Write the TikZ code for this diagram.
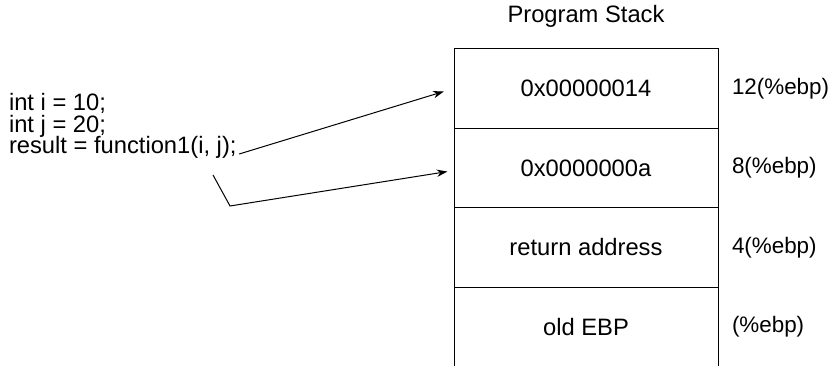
\documentclass[tikz,border=0pt]{standalone}
\usepackage{fontspec}
\setmainfont{Liberation Sans}
\usetikzlibrary{positioning,arrows.meta}

\begin{document}
\begin{tikzpicture}[x=0.75pt, y=0.75pt, line width=0.75pt,
  every node/.style={font=\fontsize{17.8}{19}\selectfont, inner sep=0pt, outer sep=0pt},
  cell/.style={draw, minimum width=198pt, minimum height=59.6pt},
  offset/.style={font=\fontsize{16.8}{19}\selectfont},
  arr/.style={-{Stealth[length=8pt,width=5.5pt]}}]
\useasboundingbox (0,0) rectangle (833,366);
% --- Program stack ---
\node (title) at (586,350) {Program Stack};
\node[cell] (c1) at (586,277.6) {0x00000014};
\node[cell, below=0pt of c1] (c2) {0x0000000a};
\node[cell, below=0pt of c2] (c3) {return address};
\node[cell, draw=none, below=0pt of c3] (c4) {old EBP};
\draw (c4.north west) -- (c4.south west) (c4.north east) -- (c4.south east);
%
% --- Offsets ---
\node[offset, right=10.5pt of c1] (o1) {12(\%ebp)};
\node[offset, right=10.5pt of c2] (o2) {8(\%ebp)};
\node[offset, right=10.5pt of c3] (o3) {4(\%ebp)};
\node[offset, right=10.5pt of c4] (o4) {(\%ebp)};
%
% --- Caller code ---
\node[anchor=base west] (l1) at (9,255) {int i = 10;};
\node[anchor=base west] (l2) at (9,233.5) {int j = 20;};
\node[anchor=base west] (l3) at (9,212) {result = function1(i, j);};
\coordinate (jarg) at (213,191);
\coordinate (bend) at (230,160);
%
% --- Arguments ---
\draw[arr, shorten >=8pt] ([xshift=2pt]l3.base east) -- (c1.west);
\draw[arr, shorten >=5pt] (jarg) -- (bend) -- ([yshift=-2pt]c2.west);
%
\end{tikzpicture}
\end{document}
